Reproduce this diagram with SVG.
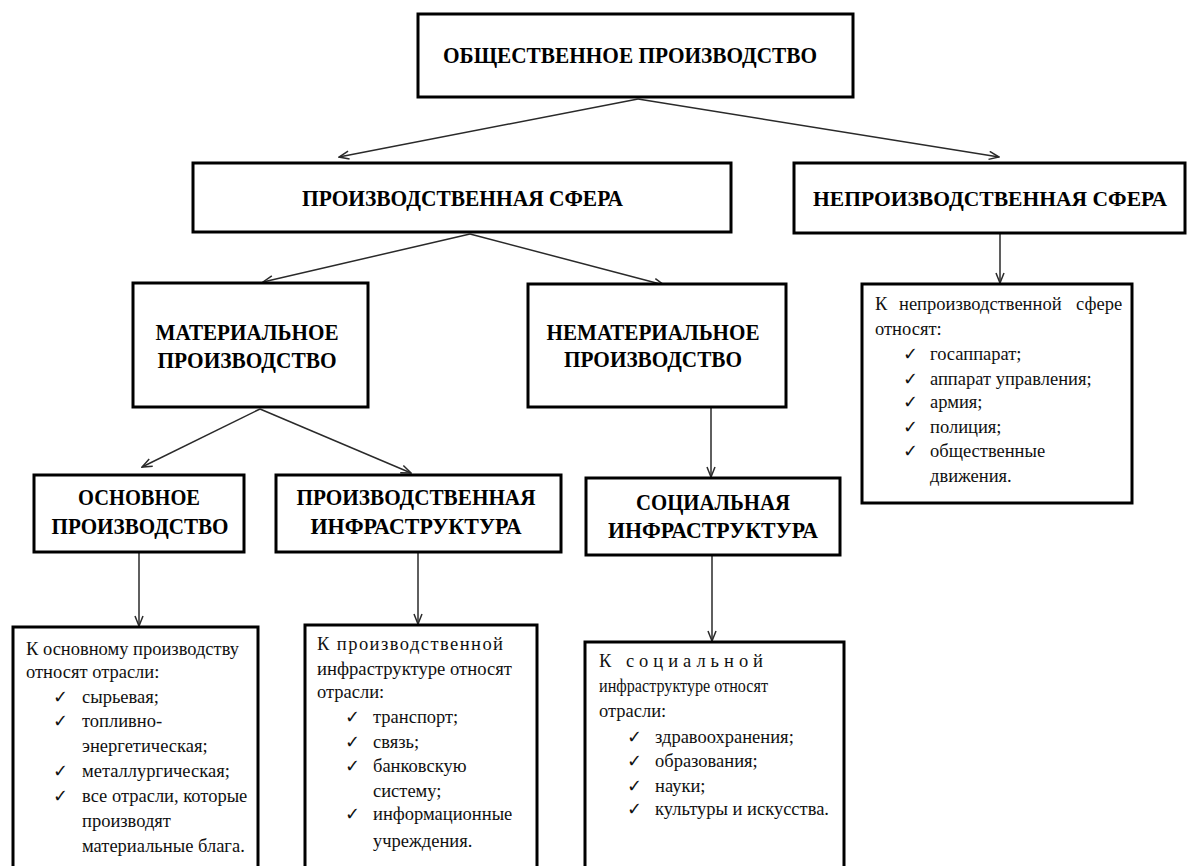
<svg xmlns="http://www.w3.org/2000/svg" width="1187" height="866" viewBox="0 0 1187 866">
<style>
.box{fill:#fff;stroke:#000;stroke-width:3}
.t{font-family:"Liberation Serif","DejaVu Serif","Times New Roman",serif;font-weight:700;font-size:24px;fill:#000;text-anchor:middle}
.b{font-family:"Liberation Serif","DejaVu Serif","Times New Roman",serif;font-size:18.5px;fill:#111}
.c{font-family:"DejaVu Sans",sans-serif;font-size:18px;fill:#111}
.con{stroke:#2a2a2a;stroke-width:1.5;fill:none;marker-end:url(#ah)}
</style>
<defs>
<marker id="ah" viewBox="0 0 12 10" refX="11" refY="5" markerWidth="12" markerHeight="10" markerUnits="userSpaceOnUse" orient="auto">
<path d="M1,1 L11,5 L1,9" fill="none" stroke="#2a2a2a" stroke-width="1.5"/>
</marker>
</defs>
<rect width="1187" height="866" fill="#fff"/>
<g id="connectors">
<line class="con" x1="638" y1="99" x2="339" y2="157"/>
<line class="con" x1="638" y1="99" x2="999" y2="157"/>
<line class="con" x1="470" y1="234" x2="263" y2="282"/>
<line class="con" x1="470" y1="234" x2="664" y2="285"/>
<line class="con" x1="1000" y1="234" x2="1000" y2="283"/>
<line class="con" x1="260" y1="409" x2="142" y2="467"/>
<line class="con" x1="260" y1="409" x2="411" y2="473"/>
<line class="con" x1="711" y1="408" x2="711" y2="477"/>
<line class="con" x1="139" y1="553" x2="139" y2="626"/>
<line class="con" x1="418" y1="553" x2="418" y2="624"/>
<line class="con" x1="712" y1="556" x2="712" y2="641"/>
</g>
<g id="n-obshchestvennoe">
<rect class="box" x="418" y="14" width="435" height="83"/>
<text class="t" x="630" y="63" textLength="374" lengthAdjust="spacingAndGlyphs">ОБЩЕСТВЕННОЕ ПРОИЗВОДСТВО</text>
</g>
<g id="n-proizv-sfera">
<rect class="box" x="193" y="163" width="538" height="69"/>
<text class="t" x="462.5" y="206" textLength="321" lengthAdjust="spacingAndGlyphs">ПРОИЗВОДСТВЕННАЯ СФЕРА</text>
</g>
<g id="n-neproizv-sfera">
<rect class="box" x="794" y="163" width="391" height="70"/>
<text class="t" x="990" y="206" style="font-size:21px" textLength="354" lengthAdjust="spacingAndGlyphs">НЕПРОИЗВОДСТВЕННАЯ СФЕРА</text>
</g>
<g id="n-material">
<rect class="box" x="133" y="283" width="235" height="124"/>
<text class="t" x="247" y="340" textLength="183" lengthAdjust="spacingAndGlyphs">МАТЕРИАЛЬНОЕ</text>
<text class="t" x="247" y="368" textLength="179" lengthAdjust="spacingAndGlyphs">ПРОИЗВОДСТВО</text>
</g>
<g id="n-nematerial">
<rect class="box" x="528" y="284" width="258" height="123"/>
<text class="t" x="653" y="340" textLength="213" lengthAdjust="spacingAndGlyphs">НЕМАТЕРИАЛЬНОЕ</text>
<text class="t" x="653" y="367" textLength="178" lengthAdjust="spacingAndGlyphs">ПРОИЗВОДСТВО</text>
</g>
<g id="n-osnovnoe">
<rect class="box" x="34" y="475" width="210" height="77"/>
<text class="t" x="139" y="505" textLength="122" lengthAdjust="spacingAndGlyphs">ОСНОВНОЕ</text>
<text class="t" x="140" y="534" textLength="177" lengthAdjust="spacingAndGlyphs">ПРОИЗВОДСТВО</text>
</g>
<g id="n-proizv-infra">
<rect class="box" x="276" y="475" width="285" height="77"/>
<text class="t" x="416" y="505" textLength="239" lengthAdjust="spacingAndGlyphs">ПРОИЗВОДСТВЕННАЯ</text>
<text class="t" x="416" y="534" textLength="211" lengthAdjust="spacingAndGlyphs">ИНФРАСТРУКТУРА</text>
</g>
<g id="n-soc-infra">
<rect class="box" x="586" y="478" width="254" height="77"/>
<text class="t" x="713" y="510" textLength="154" lengthAdjust="spacingAndGlyphs">СОЦИАЛЬНАЯ</text>
<text class="t" x="713" y="538" textLength="210" lengthAdjust="spacingAndGlyphs">ИНФРАСТРУКТУРА</text>
</g>
<g id="n-neproizv-list">
<rect class="box" x="862" y="284" width="270" height="219"/>
<text class="b" y="310"><tspan x="875">К</tspan><tspan x="899">непроизводственной</tspan><tspan x="1076">сфере</tspan></text>
<text class="b" x="875" y="335">относят:</text>
<text class="c" x="903" y="360">✓</text><text class="b" x="930" y="360">госаппарат;</text>
<text class="c" x="903" y="385">✓</text><text class="b" x="930" y="385">аппарат управления;</text>
<text class="c" x="903" y="408">✓</text><text class="b" x="930" y="408">армия;</text>
<text class="c" x="903" y="433">✓</text><text class="b" x="930" y="433">полиция;</text>
<text class="c" x="903" y="457">✓</text><text class="b" x="930" y="457">общественные</text>
<text class="b" x="930" y="482">движения.</text>
</g>
<g id="n-osnovnoe-list">
<rect class="box" x="13" y="627" width="245" height="260"/>
<text class="b" x="26" y="655" textLength="213" lengthAdjust="spacingAndGlyphs">К основному производству</text>
<text class="b" x="26" y="678">относят отрасли:</text>
<text class="c" x="53" y="703">✓</text><text class="b" x="82" y="703">сырьевая;</text>
<text class="c" x="53" y="727">✓</text><text class="b" x="82" y="727">топливно-</text>
<text class="b" x="82" y="752">энергетическая;</text>
<text class="c" x="53" y="777">✓</text><text class="b" x="82" y="777">металлургическая;</text>
<text class="c" x="53" y="802">✓</text><text class="b" x="82" y="802">все отрасли, которые</text>
<text class="b" x="82" y="827">производят</text>
<text class="b" x="82" y="852">материальные блага.</text>
</g>
<g id="n-proizv-infra-list">
<rect class="box" x="305" y="625" width="232" height="262"/>
<text class="b" x="317" y="650" textLength="186" lengthAdjust="spacing">К производственной</text>
<text class="b" x="317" y="675" textLength="195" lengthAdjust="spacingAndGlyphs">инфраструктуре относят</text>
<text class="b" x="317" y="698">отрасли:</text>
<text class="c" x="345" y="723">✓</text><text class="b" x="373" y="723">транспорт;</text>
<text class="c" x="345" y="748">✓</text><text class="b" x="373" y="748">связь;</text>
<text class="c" x="345" y="772">✓</text><text class="b" x="373" y="772">банковскую</text>
<text class="b" x="373" y="797">систему;</text>
<text class="c" x="345" y="820">✓</text><text class="b" x="373" y="820">информационные</text>
<text class="b" x="373" y="847">учреждения.</text>
</g>
<g id="n-soc-infra-list">
<rect class="box" x="585" y="642" width="259" height="245"/>
<text class="b" x="599" y="667" textLength="164" lengthAdjust="spacing">К социальной</text>
<text class="b" x="599" y="692" textLength="169" lengthAdjust="spacingAndGlyphs">инфраструктуре  относят</text>
<text class="b" x="599" y="717">отрасли:</text>
<text class="c" x="627" y="743">✓</text><text class="b" x="655" y="743">здравоохранения;</text>
<text class="c" x="627" y="767">✓</text><text class="b" x="655" y="767">образования;</text>
<text class="c" x="627" y="792">✓</text><text class="b" x="655" y="792">науки;</text>
<text class="c" x="627" y="815">✓</text><text class="b" x="655" y="815">культуры и искусства.</text>
</g>
</svg>
